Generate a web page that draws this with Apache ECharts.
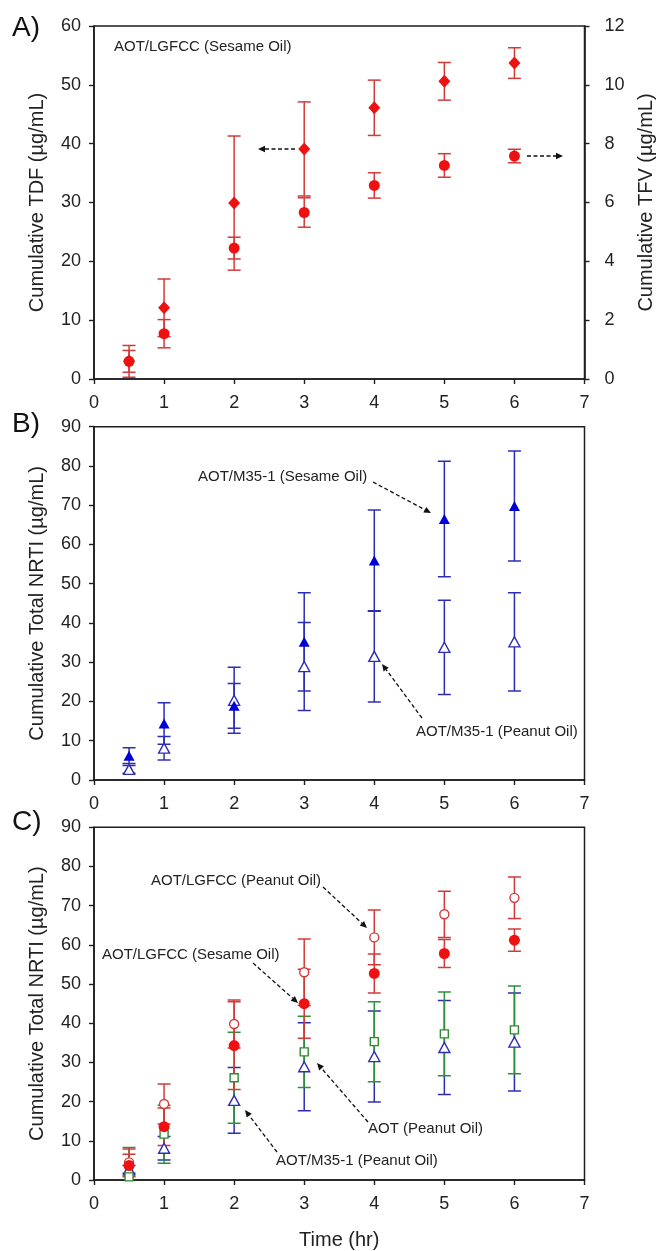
<!DOCTYPE html>
<html>
<head>
<meta charset="utf-8">
<script src="https://cdn.jsdelivr.net/npm/echarts@6/dist/echarts.min.js"></script>
<style>
html,body{margin:0;padding:0;background:#fff;}
#chart{width:662px;height:1251px;}
</style>
</head>
<body>
<div id="chart"></div>
<script>
// ---------- data ----------
const hours = [0.5, 1, 2, 3, 4, 5, 6];
const xTicks = [0, 1, 2, 3, 4, 5, 6, 7];
const yTicksA = [0, 10, 20, 30, 40, 50, 60];
const yTicksA2 = [0, 2, 4, 6, 8, 10, 12];
const yTicksBC = [0, 10, 20, 30, 40, 50, 60, 70, 80, 90];

// Panel A: AOT/LGFCC (Sesame Oil)
const tdfMean = [3.0, 12.1, 29.9, 39.1, 46.1, 50.6, 53.7];
const tdfSD   = [2.7, 4.9, 11.4, 8.0, 4.7, 3.2, 2.6];
const tfvMean = [0.60, 1.54, 4.45, 5.66, 6.58, 7.26, 7.58];
const tfvSD   = [0.37, 0.48, 0.37, 0.50, 0.43, 0.40, 0.23];

// Panel B: AOT/M35-1
const m35SesMean = [6.2, 14.4, 18.9, 35.2, 55.9, 66.5, 69.8];
const m35SesSD   = [2.0, 5.3, 5.7, 12.5, 12.9, 14.7, 14.0];
const m35PeaMean = [2.7, 8.1, 20.3, 28.9, 31.5, 33.8, 35.2];
const m35PeaSD   = [1.0, 3.0, 8.4, 11.2, 11.6, 12.0, 12.5];

// Panel C
const lgPeaMean  = [4.5, 19.4, 39.8, 53.0, 61.9, 67.8, 72.0];
const lgPeaSD    = [3.4, 5.1, 6.1, 8.5, 7.0, 5.9, 5.3];
const lgSesMean  = [3.7, 13.6, 34.3, 45.0, 52.7, 57.8, 61.2];
const lgSesSD    = [2.9, 4.8, 11.2, 8.8, 5.0, 3.6, 2.85];
const aotPeaMean = [0.8, 11.7, 26.1, 32.7, 35.3, 37.3, 38.3];
const aotPeaSD   = [7.5, 7.4, 11.6, 9.1, 10.2, 10.7, 11.2];

// ---------- styles ----------
const FONT = "'Liberation Sans', Arial, sans-serif";
const AX = '#1e1e1e';
const RED = '#ee1111', RED_BAR = '#d23a3a';
const BLUE = '#0000d8', BLUE_BAR = '#2c2cb4';
const GREEN = '#2e8b2e', GREEN_BAR = '#2f8f3a';

const chart = echarts.init(document.getElementById('chart'), null, {renderer: 'canvas'});

const grids = [
  {left: 94, right: 77.5, top: 26, height: 353},
  {left: 94, right: 77.5, top: 426.7, height: 353.3},
  {left: 94, right: 77.5, top: 827.3, height: 352.7}
].map(g => Object.assign(g, {show: true, borderColor: AX, borderWidth: 1.5, backgroundColor: 'transparent',
  containLabel: false, outerBoundsMode: 'none'}));

function xAxisFor(i, extra) {
  return Object.assign({
    type: 'value', gridIndex: i,
    min: xTicks[0], max: xTicks[xTicks.length - 1], interval: xTicks[1] - xTicks[0],
    axisLine: {show: true, onZero: false, lineStyle: {color: AX, width: 1.6}},
    axisTick: {show: true, inside: false, length: 5, lineStyle: {color: AX, width: 1.4}},
    axisLabel: {fontFamily: FONT, fontSize: 18, color: '#222', margin: 15},
    splitLine: {show: false}
  }, extra || {});
}
function yAxisFor(i, ticks, name, extra) {
  return Object.assign({
    type: 'value', gridIndex: i,
    min: ticks[0], max: ticks[ticks.length - 1], interval: ticks[1] - ticks[0],
    name: name, nameLocation: 'middle', nameGap: 47, nameRotate: 90,
    nameTextStyle: {fontFamily: FONT, fontSize: 20, color: '#222'},
    axisLine: {show: true, onZero: false, lineStyle: {color: AX, width: 1.6}},
    axisTick: {show: true, inside: false, length: 5, lineStyle: {color: AX, width: 1.4}},
    axisLabel: {fontFamily: FONT, fontSize: 18, color: '#222', margin: 13},
    splitLine: {show: false}
  }, extra || {});
}

function errSeries(xi, yi, means, sds, color) {
  return {
    type: 'custom', xAxisIndex: xi, yAxisIndex: yi, silent: true, clip: true, z: 2,
    encode: {x: 0, y: [1, 2]},
    data: hours.map((h, i) => [h, means[i] - sds[i], means[i] + sds[i]]),
    renderItem: function (params, api) {
      const x = api.value(0);
      const lo = api.coord([x, api.value(1)]);
      const hi = api.coord([x, api.value(2)]);
      const w = 6.5;
      const st = {stroke: color, lineWidth: 1.5};
      return {type: 'group', children: [
        {type: 'line', shape: {x1: lo[0], y1: lo[1], x2: hi[0], y2: hi[1]}, style: st},
        {type: 'line', shape: {x1: lo[0] - w, y1: lo[1], x2: lo[0] + w, y2: lo[1]}, style: st},
        {type: 'line', shape: {x1: hi[0] - w, y1: hi[1], x2: hi[0] + w, y2: hi[1]}, style: st}
      ]};
    }
  };
}
function ptSeries(name, xi, yi, means, symbol, size, fill, stroke, bw) {
  return {
    name: name, type: 'scatter', xAxisIndex: xi, yAxisIndex: yi, z: 4, silent: true,
    symbol: symbol, symbolSize: size,
    data: hours.map((h, i) => [h, means[i]]),
    itemStyle: {color: fill, borderColor: stroke, borderWidth: bw, opacity: 1}
  };
}

const series = [
  // Panel A
  errSeries(0, 0, tdfMean, tdfSD, RED_BAR),
  errSeries(0, 1, tfvMean, tfvSD, RED_BAR),
  ptSeries('TDF', 0, 0, tdfMean, 'diamond', [12, 13], RED, RED, 0),
  ptSeries('TFV', 0, 1, tfvMean, 'circle', 11, RED, RED, 0),
  // Panel B
  errSeries(1, 2, m35PeaMean, m35PeaSD, BLUE_BAR),
  errSeries(1, 2, m35SesMean, m35SesSD, BLUE_BAR),
  ptSeries('AOT/M35-1 (Peanut Oil)', 1, 2, m35PeaMean, 'triangle', [11, 10], '#fff', BLUE_BAR, 1.4),
  ptSeries('AOT/M35-1 (Sesame Oil)', 1, 2, m35SesMean, 'triangle', [11, 10], BLUE, BLUE, 0),
  // Panel C
  errSeries(2, 3, m35PeaMean, m35PeaSD, BLUE_BAR),
  errSeries(2, 3, aotPeaMean, aotPeaSD, GREEN_BAR),
  errSeries(2, 3, lgPeaMean, lgPeaSD, RED_BAR),
  errSeries(2, 3, lgSesMean, lgSesSD, RED_BAR),
  ptSeries('AOT/M35-1 (Peanut Oil) C', 2, 3, m35PeaMean, 'triangle', [11, 10], '#fff', BLUE_BAR, 1.4),
  ptSeries('AOT (Peanut Oil)', 2, 3, aotPeaMean, 'rect', 8, '#fff', GREEN, 1.4),
  ptSeries('AOT/LGFCC (Peanut Oil)', 2, 3, lgPeaMean, 'circle', 9, '#fff', RED_BAR, 1.4),
  ptSeries('AOT/LGFCC (Sesame Oil)', 2, 3, lgSesMean, 'circle', 11, RED, RED, 0)
];

// ---------- annotations (layout) ----------
function arrow(x1, y1, x2, y2) {
  const dx = x2 - x1, dy = y2 - y1, L = Math.hypot(dx, dy), ux = dx / L, uy = dy / L;
  const hl = 7, hw = 3.2;
  const bx = x2 - ux * hl, by = y2 - uy * hl;
  return [
    {type: 'line', silent: true, z: 10, shape: {x1: x1, y1: y1, x2: bx, y2: by},
     style: {stroke: '#111', lineWidth: 1.3, lineDash: [4, 2.5]}},
    {type: 'polygon', silent: true, z: 10, shape: {points: [[x2, y2], [bx - uy * hw, by + ux * hw], [bx + uy * hw, by - ux * hw]]},
     style: {fill: '#111'}}
  ];
}
function label(text, x, y, size, color) {
  return {type: 'text', silent: true, z: 10, x: x, y: y,
    style: {text: text, font: (size || 15) + 'px ' + FONT, fill: color || '#222', verticalAlign: 'middle', align: 'left'}};
}

const graphics = [].concat(
  label('A)', 12, 28, 28, '#111'),
  label('B)', 12, 424, 28, '#111'),
  label('C)', 12, 822, 28, '#111'),
  label('AOT/LGFCC (Sesame Oil)', 114, 47),
  arrow(295, 149, 258, 149),
  arrow(527, 156, 563, 156),
  label('AOT/M35-1 (Sesame Oil)', 198, 477),
  arrow(373, 482, 431, 513),
  label('AOT/M35-1 (Peanut Oil)', 416, 732),
  arrow(422, 718, 382, 664),
  label('AOT/LGFCC (Peanut Oil)', 151, 881),
  arrow(323, 887, 367, 928),
  label('AOT/LGFCC (Sesame Oil)', 102, 955),
  arrow(253, 963, 298, 1003),
  label('AOT (Peanut Oil)', 368, 1129),
  arrow(368, 1122, 317, 1063),
  label('AOT/M35-1 (Peanut Oil)', 276, 1161),
  arrow(277, 1152, 245, 1110)
);

chart.setOption({
  animation: false,
  backgroundColor: '#fff',
  textStyle: {fontFamily: FONT},
  grid: grids,
  xAxis: [
    xAxisFor(0), xAxisFor(1),
    xAxisFor(2, {name: 'Time (hr)', nameLocation: 'middle', nameGap: 50,
      nameTextStyle: {fontFamily: FONT, fontSize: 20, color: '#222'}})
  ],
  yAxis: [
    yAxisFor(0, yTicksA, 'Cumulative TDF (µg/mL)'),
    yAxisFor(0, yTicksA2, 'Cumulative TFV (µg/mL)', {position: 'right', nameGap: 52,
      axisLabel: {fontFamily: FONT, fontSize: 18, color: '#222', margin: 20}}),
    yAxisFor(1, yTicksBC, 'Cumulative Total NRTI (µg/mL)'),
    yAxisFor(2, yTicksBC, 'Cumulative Total NRTI (µg/mL)')
  ],
  series: series,
  graphic: graphics
});
</script>
</body>
</html>
